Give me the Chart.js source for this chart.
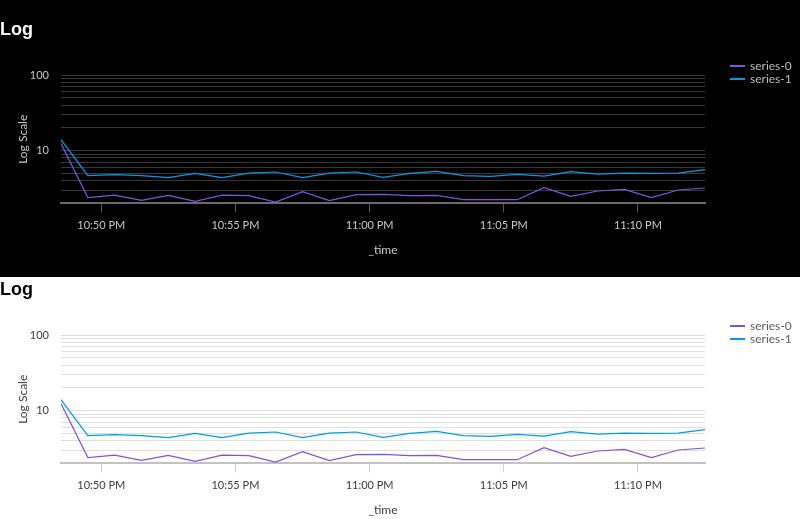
<!DOCTYPE html>
<html>
<head>
<meta charset="utf-8">
<title>Log</title>
<script src="https://cdn.jsdelivr.net/npm/chart.js@4.4.1/dist/chart.umd.min.js"></script>
<style>
  html, body { margin: 0; padding: 0; width: 800px; height: 519px; overflow: hidden; background: #fff; }
  .panel { position: absolute; left: 0; width: 800px; height: 277px; }
  #darkPanel { top: 0; background: #000; z-index: 2; }
  #lightPanel { top: 260px; background: #fff; z-index: 1; }
  .legend { position: absolute; left: 730px; top: 60px; font: 12px Lato, sans-serif; line-height: 12.5px; }
  .legend .item { display: flex; align-items: center; white-space: nowrap; }
  .legend .swatch { width: 15px; height: 2px; margin-right: 5px; }
</style>
</head>
<body>
<div class="panel" id="darkPanel">
  <canvas id="darkChart" width="800" height="277"></canvas>
  <div class="legend" id="darkLegend"></div>
</div>
<div class="panel" id="lightPanel">
  <canvas id="lightChart" width="800" height="277"></canvas>
  <div class="legend" id="lightLegend"></div>
</div>
<script>
const times = [
  "22:48:30", "22:49:30", "22:50:30", "22:51:30", "22:52:30",
  "22:53:30", "22:54:30", "22:55:30", "22:56:30", "22:57:30",
  "22:58:30", "22:59:30", "23:00:30", "23:01:30", "23:02:30",
  "23:03:30", "23:04:30", "23:05:30", "23:06:30", "23:07:30",
  "23:08:30", "23:09:30", "23:10:30", "23:11:30", "23:12:30",
];
const series0 = [
  12.4, 2.39, 2.58, 2.2, 2.56, 2.13, 2.58, 2.54, 2.08, 2.86, 2.18, 2.61, 2.64,
  2.54, 2.56, 2.24, 2.24, 2.24, 3.24, 2.48, 2.92, 3.07, 2.39, 3.01, 3.2,
];
const series1 = [
  14.0, 4.67, 4.81, 4.67, 4.39, 5.0, 4.39, 5.05, 5.21, 4.39, 5.05, 5.21, 4.43,
  5.0, 5.32, 4.67, 4.57, 4.85, 4.61, 5.27, 4.9, 5.05, 5.0, 5.05, 5.6,
];
const seriesNames = ["series-0", "series-1"];
const seriesColors = ["#7B56DB", "#009CEB"];

const xTickTimes = ["22:50", "22:55", "23:00", "23:05", "23:10"];
const xTickLabels = ["10:50 PM", "10:55 PM", "11:00 PM", "11:05 PM", "11:10 PM"];
const yGridValues = [2, 3, 4, 5, 6, 7, 8, 9, 10, 20, 30, 40, 50, 60, 70, 80, 90, 100];
const yTickLabels = [10, 100];

const themes = {
  dark: { title: "#ffffff", text: "#c8c8c8", grid: "#383838", axis: "#6a6a6a", tick: "#5a5a5a", legend: "#bdbdbd" },
  light: { title: "#000000", text: "#3c3c3c", grid: "#e0e0e0", axis: "#c2c2c2", tick: "#cfcfcf", legend: "#5c5c5c" },
};

function toMinutes(t) {
  const [h, m, s = 0] = t.split(":").map(Number);
  return h * 60 + m + s / 60;
}

function makeChart(canvasId, legendId, theme) {
  const allSeries = [series0, series1];
  const ctx = document.getElementById(canvasId).getContext("2d");

  const chart = new Chart(ctx, {
    type: "line",
    data: {
      datasets: allSeries.map((values, i) => ({
        label: seriesNames[i],
        data: values.map((v, j) => ({ x: toMinutes(times[j]), y: v })),
        borderColor: seriesColors[i],
        backgroundColor: seriesColors[i],
        borderWidth: 1.2,
        pointRadius: 0,
        tension: 0,
        fill: false,
      })),
    },
    options: {
      responsive: false,
      animation: false,
      layout: { padding: { left: 0, right: 95, top: 0, bottom: 0 } },
      plugins: {
        legend: { display: false },
        tooltip: { enabled: false },
        title: {
          display: true,
          text: "Log",
          align: "start",
          color: theme.title,
          font: { family: "'Liberation Sans', Arial, sans-serif", size: 18, weight: "bold" },
          padding: { top: 19, bottom: 34.6 },
        },
      },
      scales: {
        x: {
          type: "linear",
          min: toMinutes(times[0]),
          max: toMinutes(times[times.length - 1]),
          afterBuildTicks: (axis) => {
            axis.ticks = xTickTimes.map((t) => ({ value: toMinutes(t) }));
          },
          afterFit: (axis) => {
            axis.height = 73.6;
          },
          ticks: {
            autoSkip: false,
            maxRotation: 0,
            padding: 6.5,
            color: theme.text,
            font: { family: "Lato, sans-serif", size: 11 },
            callback: (value, index) => xTickLabels[index],
          },
          grid: { drawOnChartArea: false, drawTicks: true, tickLength: 9, color: theme.tick },
          border: { display: true, color: theme.axis, width: 2 },
          title: {
            display: true,
            text: "_time",
            color: theme.text,
            font: { family: "Lato, sans-serif", size: 12 },
            padding: { top: 4, bottom: 19.5 },
          },
        },
        y: {
          type: "logarithmic",
          min: 2,
          max: 100,
          afterBuildTicks: (axis) => {
            axis.ticks = yGridValues.map((v) => ({ value: v }));
          },
          afterFit: (axis) => {
            axis.width = 61;
          },
          ticks: {
            autoSkip: false,
            padding: 12,
            color: theme.text,
            font: { family: "Lato, sans-serif", size: 11 },
            callback: (value) => (yTickLabels.includes(value) ? String(value) : ""),
          },
          grid: { color: theme.grid, lineWidth: 1, drawTicks: false },
          border: { display: false },
          title: {
            display: true,
            text: "Log Scale",
            color: theme.text,
            font: { family: "Lato, sans-serif", size: 12 },
            padding: { top: 15.8, bottom: 0 },
          },
        },
      },
    },
  });

  // legend drawn in html, built from the chart's datasets
  const legend = document.getElementById(legendId);
  chart.data.datasets.forEach((ds) => {
    const item = document.createElement("div");
    item.className = "item";
    item.style.color = theme.legend;
    const swatch = document.createElement("span");
    swatch.className = "swatch";
    swatch.style.background = ds.borderColor;
    item.appendChild(swatch);
    item.appendChild(document.createTextNode(ds.label));
    legend.appendChild(item);
  });

  return chart;
}

makeChart("darkChart", "darkLegend", themes.dark);
makeChart("lightChart", "lightLegend", themes.light);
</script>
</body>
</html>
